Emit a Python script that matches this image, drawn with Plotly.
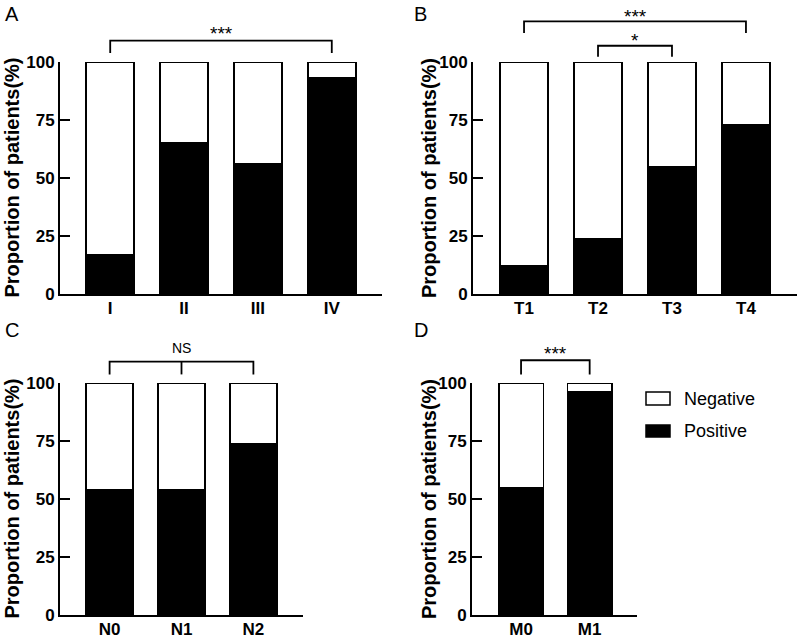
import plotly.graph_objects as go

W, H = 797, 636

# ---------------- data ----------------
cat_A = ["I", "II", "III", "IV"]
pos_A = [17, 65, 56, 93]
cat_B = ["T1", "T2", "T3", "T4"]
pos_B = [12, 24, 55, 73]
cat_C = ["N0", "N1", "N2"]
pos_C = [54, 54, 74]
cat_D = ["M0", "M1"]
pos_D = [55, 96]
y_ticks = [0, 25, 50, 75, 100]
panel_letters = ["A", "B", "C", "D"]
legend_labels = ["Negative", "Positive"]

panels = [
    dict(cats=cat_A, pos=pos_A, xd=(60, 382), yd=(294, 62), rng=(-0.68, 3.68),
         title_x=11.5, letter=(3, 14),
         brackets=[dict(i=0, j=3, top=109.2, tip=103.9, text="***", ty=114.2, mid=None)]),
    dict(cats=cat_B, pos=pos_B, xd=(473, 797), yd=(294, 62), rng=(-0.69, 3.69),
         title_x=429, letter=(412, 14),
         brackets=[dict(i=0, j=3, top=117.5, tip=112.5, text="***", ty=121.2, mid=None),
                   dict(i=1, j=2, top=107.0, tip=102.3, text="*", ty=111.2, mid=None)]),
    dict(cats=cat_C, pos=pos_C, xd=(60, 303), yd=(615, 383), rng=(-0.69, 2.69),
         title_x=11.5, letter=(3, 330),
         brackets=[dict(i=0, j=2, top=109.2, tip=103.7, text="NS", ty=115.1, mid=1)]),
    dict(cats=cat_D, pos=pos_D, xd=(472, 637), yd=(615, 383), rng=(-0.715, 1.69),
         title_x=429, letter=(412, 330),
         brackets=[dict(i=0, j=1, top=109.8, tip=103.7, text="***", ty=114.7, mid=None)]),
]

FONT = "Liberation Sans, Arial, sans-serif"


def px_x(p):
    return p / W


def px_y(p):
    return 1 - p / H


fig = go.Figure()
layout = dict(
    width=W, height=H, margin=dict(l=0, r=0, t=0, b=0, autoexpand=False),
    paper_bgcolor="white", plot_bgcolor="white", template="none",
    barmode="stack", showlegend=False,
    font=dict(family=FONT, color="black"),
)
shapes = []
annotations = []

for k, p in enumerate(panels):
    sfx = "" if k == 0 else str(k + 1)
    xa, ya = "x" + sfx, "y" + sfx
    neg = [100 - v for v in p["pos"]]
    fig.add_trace(go.Bar(x=p["cats"], y=p["pos"], name=legend_labels[1], xaxis=xa, yaxis=ya,
                         width=0.65, marker=dict(color="black", line=dict(color="black", width=1.6))))
    fig.add_trace(go.Bar(x=p["cats"], y=neg, name=legend_labels[0], xaxis=xa, yaxis=ya,
                         width=0.65, marker=dict(color="white", line=dict(color="black", width=1.6))))
    layout["xaxis" + sfx] = dict(
        domain=[px_x(p["xd"][0]), px_x(p["xd"][1])], anchor=ya, automargin=False,
        range=list(p["rng"]), showline=True, linecolor="black", linewidth=2,
        ticks="", showgrid=False, zeroline=False, fixedrange=True, ticklabelstandoff=-2,
        tickfont=dict(family=FONT, size=17, weight="bold", color="black"),
    )
    layout["yaxis" + sfx] = dict(
        domain=[px_y(p["yd"][0]), px_y(p["yd"][1])], anchor=xa, automargin=False,
        range=[0, 100], tickvals=y_ticks, showline=True, linecolor="black", linewidth=2,
        ticks="inside", ticklen=10, tickwidth=2, tickcolor="black",
        showgrid=False, zeroline=False, fixedrange=True,
        tickfont=dict(family=FONT, size=17, weight="bold", color="black"),
    )
    # y title
    annotations.append(dict(
        text="Proportion of patients(%)", textangle=-90, xref="paper", yref="paper",
        x=px_x(p["title_x"]), y=px_y((p["yd"][0] + p["yd"][1]) / 2),
        xanchor="center", yanchor="middle", showarrow=False,
        font=dict(family=FONT, size=20, weight="bold", color="black")))
    # panel letter
    annotations.append(dict(
        text=panel_letters[k], xref="paper", yref="paper",
        x=px_x(p["letter"][0]), y=px_y(p["letter"][1]), xanchor="left", yanchor="middle",
        showarrow=False, font=dict(family=FONT, size=20, color="black")))
    # significance brackets
    r0, r1 = p["rng"]

    def fx(i):
        return (i - r0) / (r1 - r0)

    for b in p["brackets"]:
        x1, x2 = fx(b["i"]), fx(b["j"])
        yt, yb = b["top"] / 100, b["tip"] / 100
        shapes.append(dict(type="path", xref=xa + " domain", yref=ya + " domain",
                           path=f"M{x1},{yb} L{x1},{yt} L{x2},{yt} L{x2},{yb}",
                           line=dict(color="black", width=1.8)))
        if b["mid"] is not None:
            xm = fx(b["mid"])
            shapes.append(dict(type="line", xref=xa + " domain", yref=ya + " domain",
                               x0=xm, x1=xm, y0=yb, y1=yt, line=dict(color="black", width=1.8)))
        is_star = "*" in b["text"]
        annotations.append(dict(
            text=b["text"], xref=xa + " domain", yref=ya + " domain",
            x=(x1 + x2) / 2, y=(b["ty"] - (1.8 if is_star else 0)) / 100,
            xanchor="center", yanchor="middle", showarrow=False,
            font=dict(family=FONT, size=19 if is_star else 14, color="black")))

# manual legend (wide rectangles as in the reference)
legend_rows = [(legend_labels[0], "white", 392, 405), (legend_labels[1], "black", 425, 437)]
for lab, col, y0, y1 in legend_rows:
    shapes.append(dict(type="rect", xref="paper", yref="paper",
                       x0=px_x(646), x1=px_x(670), y0=px_y(y1), y1=px_y(y0),
                       fillcolor=col, line=dict(color="black", width=1.5)))
    annotations.append(dict(text=lab, xref="paper", yref="paper",
                            x=px_x(682), y=px_y((y0 + y1) / 2), xanchor="left", yanchor="middle",
                            showarrow=False, font=dict(family=FONT, size=18, color="black")))

layout["shapes"] = shapes
layout["annotations"] = annotations
fig.update_layout(**layout)
fig.write_html("out.html", config={"displayModeBar": False, "staticPlot": True},
               post_script="document.body.style.margin='0';document.body.style.overflow='hidden';")
